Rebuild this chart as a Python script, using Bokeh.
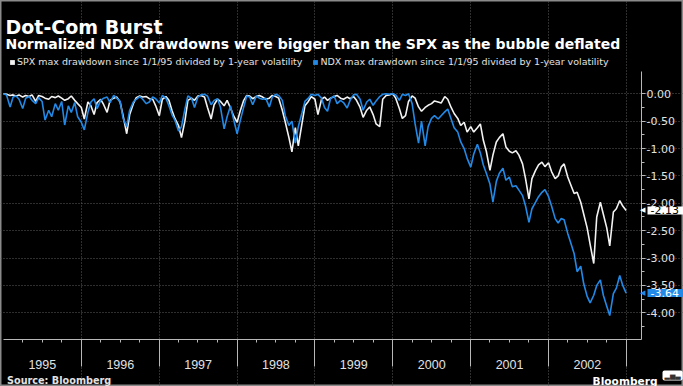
import pandas as pd
from bokeh.plotting import figure
from bokeh.models import (LinearAxis, FixedTicker, NumeralTickFormatter, Grid, Range1d,
                          CustomJSTickFormatter, Legend, LegendItem, Label, ColumnDataSource)
from bokeh.embed import file_html
from bokeh.resources import INLINE

# ---------------- data ----------------
dates = list(pd.date_range("1995-01-01", "2002-12-15", freq="SMS")) + [pd.Timestamp("2002-12-31")]

spx = [
    0.0, -0.01, -0.03, -0.02, -0.04, -0.02, -0.06, -0.03, -0.05, -0.02,
    -0.14, -0.03, -0.05, -0.08, -0.10, -0.05, -0.07, -0.04, -0.08, -0.12,
    -0.09, -0.04, -0.12, -0.18, -0.25, -0.46, -0.15, -0.22, -0.38, -0.16,
    -0.10, -0.20, -0.34, -0.12, -0.08, -0.06, -0.15, -0.40, -0.73, -0.38,
    -0.18, -0.07, -0.04, -0.06, -0.05, -0.09, -0.10, -0.22, -0.40, -0.10,
    -0.05, -0.12, -0.30, -0.45, -0.58, -0.80, -0.50, -0.12, -0.08, -0.12,
    -0.04, -0.03, -0.06, -0.25, -0.46, -0.20, -0.10, -0.14, -0.22, -0.12,
    -0.26, -0.40, -0.52, -0.32, -0.12, -0.03, -0.04, -0.09, -0.05, -0.03,
    -0.06, -0.10, -0.08, -0.03, -0.05, -0.08, -0.30, -0.52, -0.80, -1.06,
    -0.62, -0.95, -0.55, -0.22, -0.14, -0.05, -0.10, -0.38, -0.10, -0.06,
    -0.12, -0.08, -0.05, -0.03, -0.08, -0.10, -0.06, -0.09, -0.05, -0.12,
    -0.25, -0.43, -0.30, -0.24, -0.38, -0.55, -0.60, -0.10, -0.03, -0.02,
    0.0, -0.08, -0.27, -0.45, -0.40, -0.14, -0.04, -0.08, -0.24, -0.32,
    -0.25, -0.21, -0.18, -0.13, -0.15, -0.17, -0.05, -0.10, -0.25, -0.36,
    -0.45, -0.58, -0.52, -0.70, -0.60, -0.70, -0.62, -0.55, -0.85, -1.05,
    -1.40, -1.12, -0.88, -0.80, -0.73, -0.97, -1.05, -1.08, -1.04, -1.12,
    -1.28, -1.55, -1.92, -1.55, -1.40, -1.30, -1.25, -1.33, -1.26, -1.42,
    -1.55, -1.50, -1.34, -1.28, -1.52, -1.66, -1.82, -1.80, -1.98, -2.20,
    -2.45, -2.75, -3.10, -2.25, -1.98, -2.20, -2.45, -2.78, -2.16, -2.10,
    -1.95, -2.05, -2.13,
]

ndx = [
    0.0, -0.02, -0.24, -0.06, -0.04, -0.10, -0.27, -0.08, -0.05, -0.12,
    -0.18, -0.07, -0.14, -0.48, -0.30, -0.42, -0.18, -0.30, -0.14, -0.57,
    -0.22, -0.34, -0.16, -0.42, -0.52, -0.66, -0.34, -0.15, -0.09, -0.27,
    -0.12, -0.08, -0.06, -0.16, -0.03, -0.08, -0.14, -0.45, -0.60, -0.30,
    -0.15, -0.10, -0.05, -0.10, -0.18, -0.15, -0.06, -0.09, -0.17, -0.03,
    -0.08, -0.22, -0.38, -0.48, -0.68, -0.60, -0.28, -0.04, -0.08, -0.25,
    -0.06, -0.02, -0.01, -0.04, -0.20, -0.12, -0.09, -0.25, -0.64, -0.42,
    -0.22, -0.46, -0.73, -0.50, -0.24, -0.04, -0.06, -0.20, -0.04, -0.08,
    -0.10, -0.08, -0.24, -0.06, -0.01, -0.03, -0.12, -0.40, -0.58, -0.50,
    -0.90, -0.60, -0.35, -0.14, -0.08, -0.01, -0.03, -0.01, -0.08, -0.25,
    -0.32, -0.09, -0.04, -0.18, -0.12, -0.16, -0.26, -0.12, -0.02, -0.01,
    -0.10, -0.30, -0.15, -0.10, -0.21, -0.13, -0.05, -0.01, 0.0, -0.01,
    0.0, -0.02, -0.12, -0.01, -0.03, 0.0, -0.18, -0.55, -0.90, -0.50,
    -0.95, -0.60, -0.45, -0.40, -0.46, -0.40, -0.33, -0.28, -0.46, -0.62,
    -0.70, -0.88, -1.00, -1.18, -1.34, -1.10, -0.92, -1.08, -1.30, -1.45,
    -1.65, -1.98, -1.60, -1.45, -1.36, -1.58, -1.52, -1.70, -1.68, -1.76,
    -1.86, -2.05, -2.35, -2.10, -1.98, -1.88, -1.80, -1.75, -1.88, -2.05,
    -2.28, -2.36, -2.28, -2.30, -2.55, -2.72, -2.92, -3.25, -3.15, -3.47,
    -3.70, -3.82, -3.68, -3.50, -3.40, -3.68, -3.88, -4.05, -3.65, -3.55,
    -3.32, -3.50, -3.64,
]

years = [1995, 1996, 1997, 1998, 1999, 2000, 2001, 2002]
year_labels = ["1995", "1996", "1997", "1998", "1999", "2000", "2001", "2002"]
y_ticks = [0.0, -0.5, -1.0, -1.5, -2.0, -2.5, -3.0, -3.5, -4.0]
y_minor = [0.0, -0.25, -0.5, -0.75, -1.0, -1.25, -1.5, -1.75, -2.0, -2.25,
           -2.5, -2.75, -3.0, -3.25, -3.5, -3.75, -4.0, -4.25]

title_text = "Dot-Com Burst"
subtitle_text = "Normalized NDX drawdowns were bigger than the SPX as the bubble deflated"
spx_name = "SPX max drawdown since 1/1/95 divided by 1-year volatility"
ndx_name = "NDX max drawdown since 1/1/95 divided by 1-year volatility"
source_text = "Source: Bloomberg"
brand_text = "Bloomberg"

assert len(spx) == len(dates) == len(ndx)

# ---------------- styling / layout ----------------
BLUE = "#2389e6"
WHITE = "#f2f2f2"
TXT = "#e2e2e2"
AXC = "#b8b8b8"
GRID = "#5c5c5c"

W, H = 683, 386
PL, PR, PT, PB = 3, 641, 71, 339          # plot area inside the canvas (px)


def ms(ts):
    return pd.Timestamp(ts).value / 1e6


X_START, X_END = ms("1995-01-01"), ms("2003-03-13")
Y_TOP, Y_BOT = 0.407, -4.488
MSPP = (X_END - X_START) / (PR - PL)       # ms per pixel
PX = (PB - PT) / (Y_TOP - Y_BOT)            # pixels per y unit
X0, X1 = X_START - PL * MSPP, X_END + (W - PR) * MSPP
Y1, Y0 = Y_TOP + PT / PX, Y_BOT - (H - PB) / PX


def xd(px):
    return X0 + px * MSPP


def yd(py):
    return Y1 - py / PX


p = figure(width=W, height=H, output_backend="svg", toolbar_location=None,
           x_range=Range1d(X0, X1), y_range=Range1d(Y0, Y1),
           x_axis_location=None, y_axis_location=None,
           min_border=0, min_border_left=0, min_border_right=0,
           min_border_top=0, min_border_bottom=0,
           background_fill_color="black", border_fill_color="black",
           outline_line_color="#8a8a8a", outline_line_width=2)
p.center = [r for r in p.center if not isinstance(r, Grid)]

# bottom axis: year separators + quarterly ticks (no labels)
year_bounds = [ms(f"{y}-01-01") for y in years[1:] + [2003]]
quarters = [ms(f"{y}-{m:02d}-01") for y in years for m in (4, 7, 10)]
xt = FixedTicker(ticks=year_bounds, minor_ticks=quarters)
xa = LinearAxis(ticker=xt, formatter=CustomJSTickFormatter(code="return '';"),
                fixed_location=Y_BOT, bounds=(X_START, X_END),
                axis_line_color=AXC, major_tick_line_color=AXC, minor_tick_line_color=AXC,
                major_tick_out=27, major_tick_in=0, minor_tick_out=3, minor_tick_in=0,
                major_label_text_font_size="1px", major_label_standoff=0)
p.add_layout(xa, "below")

# year labels centred inside each year
mid_years = [ms(f"{y}-07-02") for y in years]
xb = LinearAxis(ticker=FixedTicker(ticks=mid_years, minor_ticks=[]),
                formatter=CustomJSTickFormatter(args=dict(labels=year_labels),
                                                code="return labels[index];"),
                fixed_location=Y_BOT, bounds=(X_START, X_END),
                axis_line_color=None, major_tick_line_color=None, minor_tick_line_color=None,
                major_tick_out=0, major_tick_in=0, minor_tick_out=0, minor_tick_in=0,
                major_label_standoff=20,
                major_label_text_font="Liberation Sans", major_label_text_font_size="12.5px",
                major_label_text_color=TXT)
p.add_layout(xb, "below")

# right axis
yt = FixedTicker(ticks=y_ticks, minor_ticks=y_minor)
ya = LinearAxis(ticker=yt, formatter=NumeralTickFormatter(format="0.00"),
                fixed_location=X_END, bounds=(Y_BOT, Y_TOP),
                axis_line_color=AXC, major_tick_line_color=AXC, minor_tick_line_color=AXC,
                major_tick_out=4, major_tick_in=0, minor_tick_out=3, minor_tick_in=0,
                major_label_standoff=1,
                major_label_text_font="DejaVu Sans", major_label_text_font_size="11px",
                major_label_text_color=TXT)
p.add_layout(ya, "right")

# dotted grid limited to the plot area
gx = Grid(dimension=0, ticker=xt, bounds=(Y_BOT, Y_TOP),
          grid_line_color=GRID, grid_line_dash="1 2", grid_line_width=1)
gy = Grid(dimension=1, ticker=yt, bounds=(X_START, X_END),
          grid_line_color=GRID, grid_line_dash="1 2", grid_line_width=1)
p.add_layout(gx)
p.add_layout(gy)

# series
src = ColumnDataSource(dict(date=[ms(d) for d in dates], spx=spx, ndx=ndx))
p.line("date", "spx", source=src, line_color=WHITE, line_width=1.6)
p.line("date", "ndx", source=src, line_color=BLUE, line_width=1.6)

# legend (square swatches) above the plot area; zero-size quads give the swatch style
sw1 = p.quad(left=[X_START], right=[X_START], bottom=[Y_TOP], top=[Y_TOP],
             fill_color=WHITE, line_color=None)
sw2 = p.quad(left=[X_START], right=[X_START], bottom=[Y_TOP], top=[Y_TOP],
             fill_color=BLUE, line_color=None)
legend = Legend(items=[LegendItem(label=spx_name, renderers=[sw1]),
                       LegendItem(label=ndx_name, renderers=[sw2])],
                orientation="horizontal", location=(9, H - 67),
                glyph_width=6, glyph_height=6, label_standoff=2, spacing=10,
                padding=0, margin=0, label_height=10,
                label_text_font="DejaVu Sans", label_text_font_size="9.5px",
                label_text_color=TXT, background_fill_alpha=0, border_line_alpha=0)
p.add_layout(legend)

# titles and footer
p.add_layout(Label(x=xd(5), y=yd(26.7), text=title_text,
                   text_font="DejaVu Sans", text_font_style="bold", text_font_size="19px",
                   text_color="white", text_align="left", text_baseline="alphabetic"))
p.add_layout(Label(x=xd(5), y=yd(43.5), text=subtitle_text,
                   text_font="DejaVu Sans", text_font_style="bold", text_font_size="14px",
                   text_color="white", text_align="left", text_baseline="alphabetic"))
p.add_layout(Label(x=xd(6.5), y=yd(380), text=source_text,
                   text_font="DejaVu Sans", text_font_style="bold", text_font_size="9.7px",
                   text_color=TXT, text_align="left", text_baseline="alphabetic"))
p.add_layout(Label(x=xd(657), y=yd(380), text=brand_text,
                   text_font="DejaVu Sans", text_font_style="bold", text_font_size="10.6px",
                   text_color="white", text_align="right", text_baseline="alphabetic"))
p.add_layout(Label(x=xd(662), y=yd(375), text="\u2582\u2585\u2583",
                   text_font="DejaVu Sans", text_font_size="7px", text_color="#333333",
                   text_align="left", text_baseline="middle",
                   background_fill_color="white",
                   padding=dict(left=2, right=2, top=1, bottom=1), border_radius=2))

# last-value tags with a small pointer, drawn above the axis labels
for val, bg, fg in ((spx[-1], "white", "black"), (ndx[-1], BLUE, "white")):
    p.add_layout(Label(x=X_END, x_offset=6, y=val, text=f"{val:.2f}", level="overlay",
                       text_font="DejaVu Sans", text_font_size="11px", text_color=fg,
                       text_align="left", text_baseline="middle",
                       background_fill_color=bg,
                       padding=dict(left=3, right=5, top=0, bottom=0)))
    p.add_layout(Label(x=X_END, x_offset=4, y=val, text="\u25c0", level="overlay",
                       text_font="DejaVu Sans", text_font_size="7px", text_color=bg,
                       text_align="right", text_baseline="middle"))

open("out.html", "w").write(file_html(p, INLINE))
